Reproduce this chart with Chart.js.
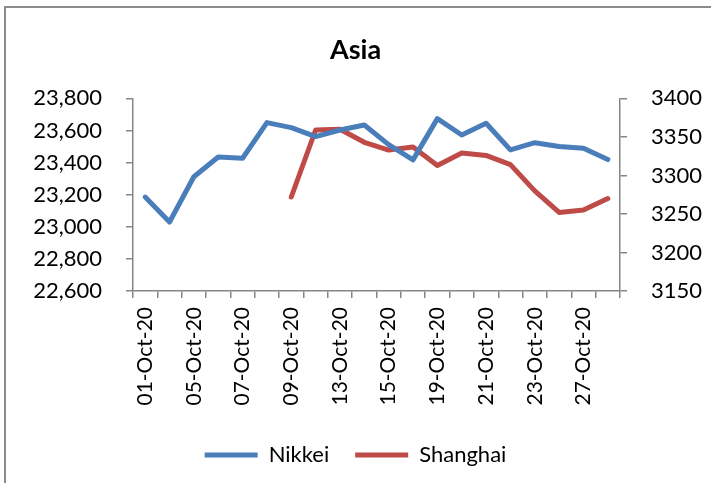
<!DOCTYPE html>
<html>
<head>
<meta charset="utf-8">
<script src="https://cdn.jsdelivr.net/npm/chart.js@4.4.0/dist/chart.umd.min.js"></script>
<style>
	html, body { margin: 0; padding: 0; background: #fff; }
	#wrap { position: relative; width: 711px; height: 483px; overflow: hidden; }
	#frame { position: absolute; left: 4px; top: 6px; width: 800px; height: 600px; border-left: 2px solid #8c8c8c; border-top: 2px solid #8c8c8c; }
	#chart { position: absolute; left: 0; top: 0; }
</style>
</head>
<body>
<div id="wrap">
	<div id="frame"></div>
	<canvas id="chart" width="711" height="483"></canvas>
</div>
<script>
// trading days, october 2020
const days = ['01-Oct-20', '02-Oct-20', '05-Oct-20', '06-Oct-20', '07-Oct-20', '08-Oct-20', '09-Oct-20',
	'12-Oct-20', '13-Oct-20', '14-Oct-20', '15-Oct-20', '16-Oct-20', '19-Oct-20', '20-Oct-20',
	'21-Oct-20', '22-Oct-20', '23-Oct-20', '26-Oct-20', '27-Oct-20', '28-Oct-20'];

const nikkei = [23185, 23030, 23312, 23435, 23427, 23649, 23618, 23562, 23603, 23634,
	23512, 23417, 23674, 23572, 23645, 23479, 23524, 23500, 23489, 23419];

// shanghai closed until 09-Oct (golden week)
const shanghai = [null, null, null, null, null, null, 3272, 3359, 3360, 3343,
	3333, 3337, 3313, 3329, 3326, 3314, 3280, 3252, 3255, 3270];

const leftTicks = [22600, 22800, 23000, 23200, 23400, 23600, 23800];
const rightTicks = [3150, 3200, 3250, 3300, 3350, 3400];

const axisGray = '#868686';
const fontName = 'Lato';

const ctx = document.getElementById('chart').getContext('2d');
const myChart = new Chart(ctx, {
	type: 'line',
	data: {
		labels: days,
		datasets: [{
			label: 'Nikkei',
			data: nikkei,
			yAxisID: 'y',
			borderColor: '#4a7ebb',
			backgroundColor: '#4a7ebb',
			borderWidth: 5,
			pointRadius: 0,
			borderCapStyle: 'round',
			borderJoinStyle: 'round',
			tension: 0
		}, {
			label: 'Shanghai',
			data: shanghai,
			yAxisID: 'y1',
			borderColor: '#be4b48',
			backgroundColor: '#be4b48',
			borderWidth: 5,
			pointRadius: 0,
			borderCapStyle: 'round',
			borderJoinStyle: 'round',
			tension: 0
		}]
	},
	options: {
		responsive: false,
		animation: false,
		layout: { padding: { left: 0, right: 0, top: 0, bottom: 7 } },
		plugins: {
			title: {
				display: true,
				text: 'Asia',
				color: '#000',
				font: { family: fontName, size: 27, weight: 'bold' },
				padding: { top: 34, bottom: 32 }
			},
			legend: {
				position: 'bottom',
				labels: {
					color: '#000',
					font: { family: fontName, size: 22 },
					usePointStyle: true,
					pointStyle: 'line',
					pointStyleWidth: 53,
					boxHeight: 22,
					padding: 26
				}
			},
			tooltip: { enabled: false }
		},
		scales: {
			x: {
				offset: true,
				grid: { drawOnChartArea: false, offset: true, color: axisGray, tickLength: 7, lineWidth: 1.5 },
				border: { color: axisGray, width: 1.5 },
				ticks: {
					autoSkip: false,
					minRotation: 90,
					maxRotation: 90,
					padding: 9,
					color: '#000',
					font: { family: fontName, size: 21 },
					callback: function (val, i) { return i % 2 === 0 ? this.getLabelForValue(val) : ''; }
				},
				afterFit: (s) => {
					s.height = 127;
					s.paddingLeft = 0;
					s.paddingRight = 0;
				}
			},
			y: {
				position: 'left',
				min: leftTicks[0],
				max: leftTicks[leftTicks.length - 1],
				grid: { drawOnChartArea: false, color: axisGray, tickLength: 7, lineWidth: 1.5 },
				border: { color: axisGray, width: 1.5 },
				afterBuildTicks: (s) => { s.ticks = leftTicks.map(v => ({ value: v })); },
				ticks: {
					color: '#000',
					padding: 24,
					font: { family: fontName, size: 22 },
					callback: (v) => v.toLocaleString('en-US')
				},
				afterFit: (s) => { s.width = 133; }
			},
			y1: {
				position: 'right',
				min: rightTicks[0],
				max: rightTicks[rightTicks.length - 1],
				grid: { drawOnChartArea: false, color: axisGray, tickLength: 7, lineWidth: 1.5 },
				border: { color: axisGray, width: 1.5 },
				afterBuildTicks: (s) => { s.ticks = rightTicks.map(v => ({ value: v })); },
				ticks: {
					color: '#000',
					padding: 24,
					font: { family: fontName, size: 22 },
					callback: (v) => String(v)
				},
				afterFit: (s) => { s.width = 91; }
			}
		}
	}
});
</script>
</body>
</html>
